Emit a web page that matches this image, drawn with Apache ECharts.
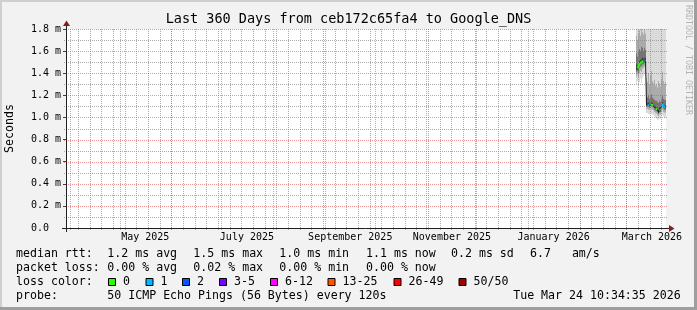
<!DOCTYPE html>
<html><head><meta charset="utf-8">
<script src="https://cdn.jsdelivr.net/npm/echarts@6/dist/echarts.min.js"></script>
<style>html,body{margin:0;padding:0;background:#f2f2f2;}#c{width:697px;height:310px;}</style>
</head><body><div id="c"></div>
<script>
// ---------- data ----------
const titleText = 'Last 360 Days from ceb172c65fa4 to Google_DNS';
const yAxisName = 'Seconds';
const rangeStart = '2025-03-29 10:34:35';
const rangeEnd = '2026-03-24 10:34:35';
const columnSeconds = 51840; // one consolidated column (rrd step)

// column centre times (chronological)
const sampleTimes = [
  '2026-03-06 17:46:35','2026-03-07 08:10:35','2026-03-07 22:34:35','2026-03-08 12:58:35','2026-03-09 03:22:35',
  '2026-03-09 17:46:35','2026-03-10 08:10:35','2026-03-10 22:34:35','2026-03-11 12:58:35','2026-03-12 03:22:35',
  '2026-03-12 17:46:35','2026-03-13 08:10:35','2026-03-13 22:34:35','2026-03-14 12:58:35','2026-03-15 03:22:35',
  '2026-03-15 17:46:35','2026-03-16 08:10:35','2026-03-16 22:34:35','2026-03-17 12:58:35','2026-03-18 03:22:35',
  '2026-03-18 17:46:35','2026-03-19 08:10:35','2026-03-19 22:34:35','2026-03-20 12:58:35','2026-03-21 03:22:35',
  '2026-03-21 17:46:35','2026-03-22 08:10:35','2026-03-22 22:34:35','2026-03-23 12:58:35','2026-03-24 03:22:35'
];
// median rtt (ms)
const medianRtt = [1.445,1.445,1.436,1.482,1.491,1.500,1.509,1.509,1.514,1.514,
                   1.114,1.114,1.114,1.109,1.118,1.118,1.114,1.109,1.091,1.082,
                   1.077,1.073,1.045,1.073,1.068,1.100,1.123,1.100,1.091,1.091];
// loss colour class per column (index into lossColors)
const lossClass = [1,0,0,0,0,0,0,0,1,1,
                   0,1,1,1,0,0,0,0,2,0,
                   0,0,1,0,0,1,1,1,1,1];
// smoke: sorted ping percentiles per column (ms)
const pingMin = [1.30,1.33,1.29,1.32,1.35,1.31,1.36,1.38,1.40,1.37,
                 1.04,1.04,1.03,1.03,1.04,1.03,1.03,1.02,1.01,1.00,
                 0.99,0.98,0.98,0.99,0.99,1.01,1.02,1.01,1.00,1.00];
const pingP10 = [1.37,1.39,1.36,1.40,1.42,1.41,1.44,1.45,1.46,1.45,
                 1.075,1.08,1.07,1.07,1.08,1.075,1.07,1.065,1.05,1.04,
                 1.035,1.03,1.01,1.03,1.03,1.05,1.07,1.05,1.045,1.045];
const pingP25 = [1.41,1.42,1.40,1.45,1.46,1.46,1.48,1.48,1.49,1.49,
                 1.095,1.10,1.095,1.09,1.10,1.10,1.095,1.09,1.07,1.06,
                 1.055,1.05,1.03,1.05,1.05,1.08,1.10,1.08,1.07,1.07];
const pingP40 = [1.43,1.435,1.425,1.47,1.48,1.485,1.50,1.50,1.505,1.505,
                 1.107,1.108,1.107,1.102,1.11,1.11,1.107,1.10,1.084,1.075,
                 1.07,1.066,1.04,1.066,1.06,1.092,1.115,1.092,1.084,1.084];
const pingP60 = [1.48,1.47,1.47,1.51,1.52,1.53,1.54,1.53,1.54,1.54,
                 1.13,1.13,1.135,1.125,1.135,1.14,1.13,1.125,1.11,1.10,
                 1.095,1.09,1.07,1.09,1.085,1.12,1.14,1.12,1.11,1.11];
const pingP75 = [1.58,1.55,1.60,1.62,1.60,1.64,1.63,1.60,1.63,1.61,
                 1.19,1.18,1.20,1.17,1.19,1.21,1.18,1.17,1.16,1.15,
                 1.15,1.14,1.13,1.15,1.14,1.17,1.20,1.17,1.16,1.16];
const pingP90 = [1.74,1.70,1.76,1.79,1.74,1.80,1.77,1.75,1.79,1.76,
                 1.36,1.32,1.40,1.30,1.38,1.42,1.33,1.31,1.34,1.29,
                 1.30,1.27,1.33,1.31,1.28,1.35,1.41,1.33,1.30,1.32];
const pingMax = [2.30,2.10,2.40,2.50,2.20,2.60,2.30,2.20,2.50,2.30,
                 2.30,2.10,2.40,2.00,2.20,2.50,2.10,2.00,2.30,1.95,
                 2.20,2.00,2.40,2.10,1.90,2.30,2.60,2.20,2.00,2.10];

const yMajorTicks = [0, 0.2, 0.4, 0.6, 0.8, 1.0, 1.2, 1.4, 1.6, 1.8];
const yMinorTicks = [0.1, 0.3, 0.5, 0.7, 0.9, 1.1, 1.3, 1.5, 1.7];
const monthStarts = ['2025-04-01','2025-05-01','2025-06-01','2025-07-01','2025-08-01','2025-09-01',
                     '2025-10-01','2025-11-01','2025-12-01','2026-01-01','2026-02-01','2026-03-01'];
const monthLabelTimes = ['2025-05-16','2025-07-16','2025-09-16','2025-11-16','2026-01-16','2026-03-16'];
const monthLabelTexts = ['May 2025','July 2025','September 2025','November 2025','January 2026','March 2026'];

const lossColors = ['#26ff00','#00b8ff','#0059ff','#7e00ff','#ff00ff','#ff5500','#ff0000','#a10000'];
const lossLabels = ['0','1','2','3-5','6-12','13-25','26-49','50/50'];

const rttStats = [['1.2','avg'],['1.5','max'],['1.0','min'],['1.1','now'],['0.2','sd']];
const amsValue = '6.7';
const lossStats = [['0.00','avg'],['0.02','max'],['0.00','min'],['0.00','now']];
const probeText = '50 ICMP Echo Pings (56 Bytes) every 120s';
const stampText = 'Tue Mar 24 10:34:35 2026';
const watermark = 'RRDTOOL / TOBI OETIKER';

// ---------- chart ----------
const FONT = 'DejaVu Sans Mono';
const toMs = s => new Date(s.length === 10 ? s + 'T00:00:00' : s.replace(' ', 'T')).getTime();
const yMax = 1.8;
const halfStep = columnSeconds * 1000 / 2;
const COL_GRID = 'rgba(143,143,143,0.75)';
const COL_MGRID = 'rgba(222,79,79,0.6)';

function bandSeries(lo, hi, color, z) {
  return {
    type: 'custom', z: z, silent: true, animation: false,
    dimensions: ['t', 'lo', 'hi'],
    encode: {x: 0, y: [1, 2]},
    data: sampleTimes.map((t, i) => [toMs(t), lo[i], hi[i]]),
    renderItem(params, api) {
      const t = api.value(0);
      const a = api.coord([t - halfStep, api.value(1)]);
      const b = api.coord([t + halfStep, api.value(2)]);
      const cs = params.coordSys;
      const top = Math.max(b[1], cs.y);
      return {type: 'rect', shape: {x: a[0], y: top, width: b[0] - a[0], height: a[1] - top},
              style: {fill: color}};
    }
  };
}

// vertical grid: Sundays (minor) and month starts (major)
const sundayTimes = [];
{
  const end = toMs(rangeEnd);
  const d = new Date(2025, 2, 30, 0, 0, 0);
  while (d.getTime() < end) { sundayTimes.push(d.getTime()); d.setDate(d.getDate() + 7); }
}
function vGridSeries(times, color, z) {
  return {
    type: 'custom', z: z, silent: true, animation: false,
    dimensions: ['t', 'y'],
    encode: {x: 0, y: 1},
    data: times.map(t => [t, 0]),
    renderItem(params, api) {
      const t = api.value(0);
      const top = api.coord([t, yMax]);
      const bot = api.coord([t, 0]);
      const x = Math.floor(top[0]) + 0.5;
      return {type: 'line', shape: {x1: x, y1: Math.round(top[1]), x2: x, y2: Math.round(bot[1]) + 3},
              style: {stroke: color, lineWidth: 1, lineDash: [1, 1]}};
    }
  };
}
function hGridSeries(values, color, z) {
  return {
    type: 'custom', z: z, silent: true, animation: false,
    dimensions: ['t', 'v'],
    encode: {x: 0, y: 1},
    data: values.map(v => [toMs(rangeStart), v]),
    renderItem(params, api) {
      const p = api.coord([api.value(0), api.value(1)]);
      const cs = params.coordSys;
      const y = Math.round(p[1]) + 0.5;
      return {type: 'line', shape: {x1: cs.x - 2, y1: y, x2: cs.x + cs.width + 2, y2: y},
              style: {stroke: color, lineWidth: 1, lineDash: [1, 1]}};
    }
  };
}

const series = [
  bandSeries(pingMin, pingMax, '#dadada', 1),
  bandSeries(pingP10, pingP90, '#ababab', 1),
  bandSeries(pingP25, pingP75, '#747474', 1),
  bandSeries(pingP40, pingP60, '#444444', 1),
  hGridSeries(yMinorTicks, COL_GRID, 3),
  vGridSeries(sundayTimes, COL_GRID, 3),
  hGridSeries(yMajorTicks, COL_MGRID, 4),
  vGridSeries(monthStarts.map(toMs), COL_MGRID, 4),
  {
    type: 'line', z: 5, silent: true, animation: false, symbol: 'none',
    data: sampleTimes.map((t, i) => [toMs(t), medianRtt[i]]),
    lineStyle: {color: '#202020', width: 1}
  }
];
[0, 1, 2].forEach(c => {
  series.push({
    type: 'line', z: 6, silent: true, animation: false, symbol: 'none', showSymbol: false, connectNulls: false,
    data: sampleTimes.map((t, i) => [toMs(t), lossClass[i] === c ? medianRtt[i] : null]),
    lineStyle: {color: lossColors[c], width: 2}
  });
});

// graphic: frame, axes, texts, legend
const g = [];
const txt = (x, y, s, opt) => g.push(Object.assign({type: 'text', x: x, y: y, z: 20, silent: true,
  style: Object.assign({text: s, font: '11.6px "' + FONT + '"', fill: '#000', align: 'left', verticalAlign: 'middle'}, opt || {})}));
g.push({type: 'rect', z: 20, shape: {x: 0, y: 0, width: 697, height: 2}, style: {fill: '#cfcfcf'}});
g.push({type: 'rect', z: 20, shape: {x: 0, y: 0, width: 2, height: 310}, style: {fill: '#cfcfcf'}});
g.push({type: 'rect', z: 21, shape: {x: 0, y: 307, width: 697, height: 3}, style: {fill: '#9e9e9e'}});
g.push({type: 'rect', z: 21, shape: {x: 694, y: 0, width: 3, height: 310}, style: {fill: '#9e9e9e'}});
// axes
g.push({type: 'line', z: 20, shape: {x1: 62, y1: 228.5, x2: 669, y2: 228.5}, style: {stroke: '#202020', lineWidth: 1}});
g.push({type: 'line', z: 20, shape: {x1: 66.5, y1: 232, x2: 66.5, y2: 25}, style: {stroke: '#202020', lineWidth: 1}});
g.push({type: 'polygon', z: 20, shape: {points: [[669, 225], [674.5, 228.5], [669, 232]]}, style: {fill: '#801f1f'}});
g.push({type: 'polygon', z: 20, shape: {points: [[63, 26], [66.5, 20.5], [70, 26]]}, style: {fill: '#801f1f'}});
// title etc.
txt(348.5, 19.3, titleText, {font: '13.5px "' + FONT + '"', align: 'center'});
g.push({type: 'text', x: 10, y: 128.5, rotation: Math.PI / 2, z: 20,
  style: {text: yAxisName, font: '11.6px "' + FONT + '"', fill: '#000', align: 'center', verticalAlign: 'middle'}});
g.push({type: 'text', x: 688.3, y: 60, rotation: -Math.PI / 2, z: 20,
  style: {text: watermark, font: '8.3px "' + FONT + '"', fill: '#b4b4b4', align: 'center', verticalAlign: 'middle'}});
// legend
const colX = [107.3, 193.3, 279.3, 366, 451, 530];
const L1 = 253.7, L2 = 267.7, L3 = 281.7, L4 = 295.7;
txt(16, L1, 'median rtt:');
rttStats.forEach((s, i) => txt(colX[i], L1, s[0] + ' ms ' + s[1]));
txt(colX[5], L1, amsValue + '   am/s');
txt(16, L2, 'packet loss:');
lossStats.forEach((s, i) => txt(colX[i], L2, s[0] + ' % ' + s[1]));
txt(16, L3, 'loss color:');
const boxX = [108, 145.5, 182, 219, 270, 327.5, 393.5, 458.5];
lossColors.forEach((c, i) => {
  g.push({type: 'rect', z: 20, shape: {x: boxX[i] + 0.5, y: 278.5, width: 7, height: 7}, style: {fill: c, stroke: '#000', lineWidth: 1}});
  txt(boxX[i] + 15, L3, lossLabels[i]);
});
txt(16, L4, 'probe:');
txt(107.3, L4, probeText);
txt(680.7, L4, stampText, {align: 'right'});

const labelVals = monthLabelTimes.map(toMs);

const chart = echarts.init(document.getElementById('c'), null, {renderer: 'canvas', width: 697, height: 310});
chart.setOption({
  animation: false,
  backgroundColor: '#f2f2f2',
  grid: {left: 66, top: 29, width: 600, height: 199, show: true, backgroundColor: '#ffffff', borderWidth: 0, containLabel: false},
  xAxis: {
    type: 'value', min: toMs(rangeStart), max: toMs(rangeEnd), z: 3, scale: true,
    axisLine: {show: false}, axisTick: {show: false}, splitLine: {show: false},
    axisLabel: {
      customValues: labelVals,
      formatter: (v) => { const i = labelVals.indexOf(v); return i >= 0 ? monthLabelTexts[i] : ''; },
      fontFamily: FONT, fontSize: 10, color: '#000', margin: 9, verticalAlign: 'middle',
      hideOverlap: false, showMinLabel: true, showMaxLabel: true
    }
  },
  yAxis: {
    type: 'value', min: 0, max: yMax, interval: 0.2, z: 4,
    axisLine: {show: false},
    axisTick: {show: true, length: 3, lineStyle: {color: '#404040'}},
    axisLabel: {
      fontFamily: FONT, fontSize: 10, color: '#000', margin: 5,
      formatter: v => v === 0 ? '0.0\u00a0\u00a0' : v.toFixed(1) + ' m'
    },
    splitLine: {show: false}
  },
  series: series,
  graphic: {elements: g}
});
</script>
</body></html>
